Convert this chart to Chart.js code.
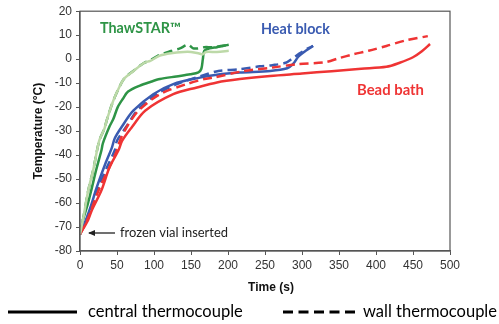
<!DOCTYPE html>
<html><head><meta charset="utf-8">
<script src="https://cdn.jsdelivr.net/npm/chart.js@4/dist/chart.umd.min.js"></script>
<style>html,body{margin:0;padding:0;background:#fff;}#wrap{width:499px;height:324px;}</style>
</head><body><div id="wrap"><canvas id="c" width="499" height="324"></canvas></div>
<script>
// ThawSTAR
const thawCentralTime = [0,4,10,15,22,29,31,40,45,51,58,65,81,95,108,130,149,160,164,166,168,175,185,193,201];
const thawCentralTemp = [-73,-67,-61,-55,-46,-38,-35,-28,-25,-20,-16.5,-13.5,-11,-9.5,-8.3,-7.2,-6.3,-5.5,-4,0,3.5,4.5,5,5.5,6];
const thawWallTime = [0,4,11,18,26,33,36,45,54,60,72,87,95,105,123,135,146,153,160,168,180,190,201];
const thawWallTemp = [-73,-67,-55,-46,-34,-29,-25.6,-17.3,-11.1,-8,-4.9,-1.5,-0.5,1.4,3.4,4.5,6,4.5,4.5,5,5,5.5,6];
const thawPaleTime = [0,4,11,18,26,33,36,45,54,60,72,87,95,108,123,140,150,160,166,170,185,201];
const thawPaleTemp = [-73,-67,-55,-46,-34,-29,-25.6,-17.3,-11.1,-8,-5,-1.5,-0.7,1.5,2.5,3,3,2.5,2,3,3,3.5];
// Heat block
const heatCentralTime = [0,8,15,22,35,43,47,56,72,99,126,162,185,216,257,280,288,295,305,315];
const heatCentralTemp = [-73,-67,-61,-54,-43,-37,-33,-28.4,-21.5,-14.6,-10.4,-7.7,-6.5,-5.6,-4.9,-3.8,-2,1,3.5,5.5];
const heatWallTime = [0,9,24,38,47,50,63,77,104,131,171,187,216,243,260,278,288,295,305,315];
const heatWallTemp = [-73,-67,-54,-44,-38,-34,-28,-21.5,-14.5,-10.4,-6.3,-4.9,-4.2,-3,-2.5,-1.5,0.5,2,4,5.5];
// Bead bath
const beadCentralTime = [0,11,16,29,40,52,57,70,88,126,158,185,216,257,300,340,380,414,432,450,462,473];
const beadCentralTemp = [-73,-67,-63,-54.7,-45,-38,-34,-28.4,-21.5,-14.6,-11.8,-9.7,-8.3,-7,-6,-5,-4,-3.2,-1.5,0.8,3.3,6.3];
const beadWallTime = [0,10,26,40,50,54,63,79,108,144,168,180,221,260,293,331,351,369,390,414,440,470];
const beadWallTemp = [-73,-67,-54,-45,-38,-34,-28.4,-21.5,-14.6,-10.4,-8.3,-7.7,-5,-3.5,-2.1,-1.3,0.5,2,3.5,5.5,7.8,9.6];

const xTicks = [0,50,100,150,200,250,300,350,400,450,500];
const yTicks = [-80,-70,-60,-50,-40,-30,-20,-10,0,10,20];

const GREEN='#2e9446', PALE='#bdd9a8', BLUE='#3a5bb1', RED='#ef3434';
const pts=(t,v)=>t.map((x,i)=>({x:x,y:v[i]}));
function ds(t,v,color,dash){return {data:pts(t,v),borderColor:color,borderWidth:2.5,borderDash:dash?[9,5]:[],pointRadius:0,tension:0.3,fill:false};}

const extras = {
  id:'extras',
  afterDraw(chart){
    const {ctx,chartArea:a}=chart;
    ctx.save();
    ctx.strokeStyle='#555';ctx.lineWidth=1.2;
    ctx.strokeRect(a.left,a.top,a.right-a.left,a.bottom-a.top);
    function txt(s,weight,family,color,cx,cy,width){
      ctx.font=weight+' 20px '+family;
      const size=20*width/ctx.measureText(s).width;
      ctx.font=weight+' '+size.toFixed(2)+'px '+family;
      ctx.fillStyle=color;ctx.textBaseline='middle';ctx.textAlign='left';
      ctx.fillText(s,cx,cy);
    }
    txt('ThawSTAR™','bold','Lato',GREEN,100,28,81);
    txt('Heat block','bold','Lato',BLUE,261,29,69);
    txt('Bead bath','bold','Lato',RED,357,90,67);
    txt('frozen vial inserted','normal','Lato','#222',120,233,108);
    // arrow
    ctx.strokeStyle='#222';ctx.lineWidth=1.3;ctx.beginPath();
    ctx.moveTo(115,233);ctx.lineTo(89,233);ctx.stroke();
    ctx.beginPath();ctx.moveTo(88,233);ctx.lineTo(95,230);ctx.lineTo(95,236);ctx.closePath();ctx.fillStyle='#222';ctx.fill();
    // legend
    ctx.strokeStyle='#000';ctx.lineWidth=3;ctx.setLineDash([]);
    ctx.beginPath();ctx.moveTo(8,312);ctx.lineTo(77,312);ctx.stroke();
    ctx.setLineDash([10,5.5]);ctx.beginPath();ctx.moveTo(283,312);ctx.lineTo(356,312);ctx.stroke();
    ctx.setLineDash([]);
    txt('central thermocouple','normal','Lato','#000',88,312,155);
    txt('wall thermocouple','normal','Lato','#000',363,312,134);
    // x title
    ctx.font='bold 12px "Liberation Sans"';ctx.fillStyle='#111';ctx.textAlign='center';ctx.textBaseline='middle';
    ctx.fillText('Time (s)',271,288);
    ctx.restore();
  }
};

new Chart(document.getElementById('c'),{
  type:'line',
  data:{datasets:[
    ds(thawPaleTime,thawPaleTemp,PALE,false),
    ds(beadWallTime,beadWallTemp,RED,true),
    ds(beadCentralTime,beadCentralTemp,RED,false),
    ds(heatWallTime,heatWallTemp,BLUE,true),
    ds(heatCentralTime,heatCentralTemp,BLUE,false),
    ds(thawWallTime,thawWallTemp,GREEN,true),
    ds(thawCentralTime,thawCentralTemp,GREEN,false)
  ]},
  options:{
    responsive:false,animation:false,
    layout:{padding:{left:0,right:49,top:10,bottom:0}},
    plugins:{legend:{display:false},tooltip:{enabled:false}},
    scales:{
      x:{type:'linear',min:0,max:500,
        afterBuildTicks(s){s.ticks=xTicks.map(v=>({value:v}));},
        afterFit(s){s.height=73;},
        grid:{drawOnChartArea:false,drawTicks:true,tickLength:4,tickColor:'#555'},
        border:{display:true,color:'#555',width:1.2},
        ticks:{padding:3,color:'#333',font:{family:'Liberation Sans',size:12},maxRotation:0,autoSkip:false},
        title:{display:false}
      },
      y:{type:'linear',min:-80,max:20,
        afterBuildTicks(s){s.ticks=yTicks.map(v=>({value:v}));},
        afterFit(s){s.width=80;},
        grid:{drawOnChartArea:false,drawTicks:true,tickLength:4,tickColor:'#555'},
        border:{display:true,color:'#555',width:1.2},
        ticks:{padding:4,color:'#333',font:{family:'Liberation Sans',size:12},autoSkip:false},
        title:{display:true,text:'Temperature (°C)',color:'#111',font:{family:'Liberation Sans',size:12,weight:'bold'},padding:{top:31,bottom:0}}
      }
    }
  },
  plugins:[extras]
});
</script></body></html>
